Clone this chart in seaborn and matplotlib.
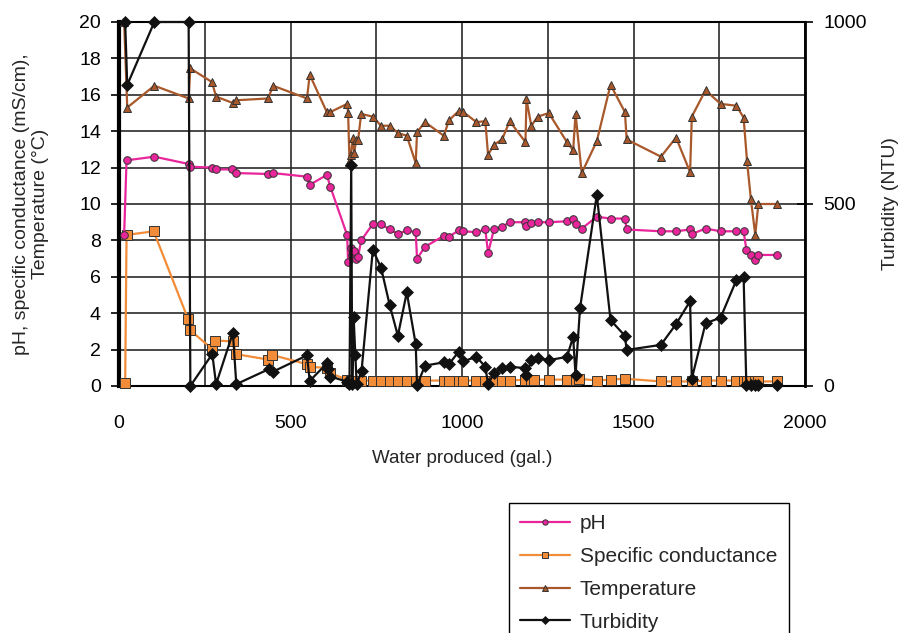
import numpy as np
import matplotlib
matplotlib.use("Agg")
import matplotlib.pyplot as plt
import seaborn as sns

# ---------------- data ----------------
ph_x = [15, 22, 103, 203, 208, 272, 283, 330, 342, 435, 449, 548, 556, 606, 616,
        665, 668, 675, 680, 685, 690, 697, 706, 740, 764, 789, 813, 839, 865, 869,
        892, 947, 962, 990, 1004, 1042, 1068, 1076, 1093, 1117, 1139, 1185, 1188,
        1202, 1221, 1253, 1306, 1324, 1331, 1349, 1393, 1433, 1475, 1480, 1580,
        1624, 1665, 1670, 1710, 1754, 1800, 1821, 1829, 1842, 1854, 1864, 1917]
ph_y = [8.3, 12.4, 12.6, 12.2, 12.05, 12.0, 11.9, 11.9, 11.7, 11.65, 11.7, 11.5,
        11.05, 11.6, 10.95, 8.3, 6.8, 7.6, 7.2, 7.4, 7.0, 7.1, 8.0, 8.9, 8.9, 8.6,
        8.35, 8.55, 8.45, 7.0, 7.65, 8.25, 8.2, 8.55, 8.5, 8.45, 8.6, 7.3, 8.6,
        8.75, 9.0, 9.0, 8.8, 8.95, 9.0, 9.0, 9.05, 9.15, 8.9, 8.65, 9.3, 9.2, 9.2,
        8.6, 8.5, 8.5, 8.6, 8.35, 8.65, 8.5, 8.5, 8.5, 7.5, 7.2, 6.95, 7.2, 7.2]

sc_x = [18, 22, 101, 201, 208, 271, 281, 332, 342, 435, 447, 548, 556, 606, 616,
        665, 675, 685, 697, 706, 740, 764, 789, 813, 839, 865, 892, 947, 962, 990,
        1004, 1042, 1068, 1093, 1117, 1139, 1185, 1202, 1210, 1253, 1306, 1331,
        1340, 1393, 1433, 1475, 1580, 1624, 1670, 1710, 1754, 1800, 1821, 1832,
        1842, 1854, 1864, 1917]
sc_y = [0.15, 8.3, 8.5, 3.7, 3.05, 2.05, 2.5, 2.45, 1.75, 1.45, 1.7, 1.2, 1.05,
        1.0, 0.7, 0.35, 0.3, 0.3, 0.3, 0.3, 0.3, 0.3, 0.3, 0.3, 0.3, 0.3, 0.3, 0.3,
        0.3, 0.3, 0.3, 0.3, 0.3, 0.3, 0.3, 0.3, 0.35, 0.35, 0.35, 0.35, 0.35, 0.35,
        0.4, 0.3, 0.35, 0.4, 0.25, 0.25, 0.25, 0.3, 0.3, 0.3, 0.3, 0.25, 0.3, 0.3,
        0.25, 0.25]

t_x = [15, 24, 103, 203, 208, 271, 283, 332, 342, 435, 449, 548, 556, 606, 616,
       665, 668, 672, 676, 681, 686, 691, 697, 706, 740, 764, 789, 813, 839, 865,
       869, 892, 947, 962, 990, 1004, 1042, 1068, 1076, 1093, 1117, 1139, 1185,
       1188, 1202, 1221, 1253, 1306, 1324, 1331, 1349, 1393, 1433, 1475, 1480,
       1580, 1624, 1665, 1670, 1710, 1754, 1800, 1821, 1831, 1842, 1855, 1864, 1917]
t_y = [20.0, 15.3, 16.5, 15.8, 17.45, 16.7, 15.9, 15.55, 15.7, 15.8, 16.5, 15.8,
       17.1, 15.05, 15.05, 15.5, 15.0, 12.3, 12.7, 13.6, 12.8, 13.5, 13.5, 14.95,
       14.8, 14.3, 14.3, 13.9, 13.75, 12.25, 13.95, 14.5, 13.75, 14.6, 15.1, 15.05,
       14.5, 14.55, 12.7, 13.25, 13.55, 14.55, 13.4, 15.75, 14.3, 14.8, 15.0, 13.4,
       12.95, 14.95, 11.7, 13.45, 16.55, 15.05, 13.55, 12.6, 13.65, 11.75, 14.8,
       16.25, 15.5, 15.4, 14.75, 12.35, 10.3, 8.3, 10.0, 10.0]

tb_x = [18, 24, 103, 203, 208, 272, 283, 332, 342, 436, 448, 548, 556, 606, 610,
        616, 665, 672, 677, 680, 684, 689, 693, 707, 740, 764, 789, 813, 839, 865,
        869, 892, 947, 962, 990, 1004, 1042, 1068, 1076, 1093, 1117, 1139, 1185,
        1188, 1202, 1221, 1253, 1306, 1324, 1331, 1344, 1393, 1433, 1475, 1480,
        1580, 1624, 1665, 1670, 1710, 1754, 1800, 1821, 1829, 1842, 1855, 1864, 1917]
tb_y = [1000, 827, 1000, 1000, 0, 88, 5, 146, 5, 46, 39, 84, 14, 62, 47, 26, 12,
        5, 607, 5, 190, 85, 5, 40, 374, 325, 223, 138, 257, 115, 2, 56, 65, 60, 94,
        68, 80, 53, 5, 35, 49, 53, 49, 30, 71, 77, 71, 80, 135, 30, 213, 525, 181,
        138, 99, 113, 170, 233, 20, 172, 188, 291, 300, 2, 2, 2, 3, 2]

x_ticks = [0, 500, 1000, 1500, 2000]
y_ticks = [0, 2, 4, 6, 8, 10, 12, 14, 16, 18, 20]
y2_ticks = [0, 500, 1000]

# ---------------- style ----------------
sns.set_style("white")
plt.rcParams['font.family'] = ['Liberation Sans', 'DejaVu Sans']

W, H = 898, 633
fig = plt.figure(figsize=(W / 100, H / 100), dpi=100)
ax = fig.add_axes([119 / W, 1 - 386 / H, 686 / W, 364 / H])
ax2 = ax.twinx()

PINK = '#E8259A'
ORANGE = '#F28C38'
BROWN = '#A8582A'
BLACK = '#111111'
EDGE = '#333333'

common = dict(estimator=None, sort=False, clip_on=False)
sns.lineplot(x=ph_x, y=ph_y, ax=ax, color=PINK, lw=1.6, marker='o', markersize=5.5,
             markerfacecolor=PINK, markeredgecolor=EDGE, markeredgewidth=0.7,
             label='pH', zorder=4, **common)
sns.lineplot(x=sc_x, y=sc_y, ax=ax, color=ORANGE, lw=1.6, marker='s', markersize=6.5,
             markerfacecolor=ORANGE, markeredgecolor=EDGE, markeredgewidth=0.7,
             label='Specific conductance', zorder=3, **common)
sns.lineplot(x=t_x, y=t_y, ax=ax, color=BROWN, lw=1.6, marker='^', markersize=6,
             markerfacecolor=BROWN, markeredgecolor=EDGE, markeredgewidth=0.7,
             label='Temperature', zorder=4, **common)
sns.lineplot(x=tb_x, y=tb_y, ax=ax2, color=BLACK, lw=1.6, marker='D', markersize=6,
             markerfacecolor=BLACK, markeredgecolor=BLACK, markeredgewidth=0.5,
             label='Turbidity', zorder=5, **common)

# axes
ax.set_xlim(0, 2000)
ax.set_ylim(0, 20)
ax2.set_ylim(0, 1000)
ax.set_xticks(x_ticks)
ax.set_xticks(np.arange(0, 2001, 250), minor=True)
ax.set_yticks(y_ticks)
ax2.set_yticks(y2_ticks)
ax.set_xticklabels([str(v) for v in x_ticks])

ax.grid(True, which='both', axis='x', color='#2a2a2a', lw=1.2)
ax.grid(True, which='major', axis='y', color='#2a2a2a', lw=1.2)
ax.set_axisbelow(True)

for sp in ax.spines.values():
    sp.set_color('black')
    sp.set_linewidth(1.5)
ax.spines['left'].set_linewidth(3)
ax.spines['right'].set_linewidth(2)
for sp in ax2.spines.values():
    sp.set_visible(False)

ax.tick_params(axis='x', which='both', length=0, pad=21, labelsize=14, colors='black')
ax.tick_params(axis='y', length=6, width=1.2, direction='out', pad=7,
               labelsize=14, colors='black', left=True)
ax2.tick_params(axis='y', length=12, width=1.2, direction='inout', pad=7,
                labelsize=14, colors='black', right=True)

ax.set_xlabel('Water produced (gal.)', fontsize=13.5, labelpad=13)
ax.set_ylabel('pH, specific conductance (mS/cm),\nTemperature (\u00b0C)',
              fontsize=14, labelpad=22, linespacing=1.1)
ax2.set_ylabel('Turbidity (NTU)', fontsize=14, labelpad=11)

# legend
h1, l1 = ax.get_legend_handles_labels()
h2, l2 = ax2.get_legend_handles_labels()
if ax.get_legend():
    ax.get_legend().remove()
if ax2.get_legend():
    ax2.get_legend().remove()
leg = fig.legend(h1 + h2, l1 + l2, loc='upper left',
                 bbox_to_anchor=(509 / W, 1 - 503 / H), bbox_transform=fig.transFigure,
                 fontsize=15, frameon=True, fancybox=False, framealpha=1,
                 edgecolor='black', handlelength=2.4, handletextpad=0.45,
                 labelspacing=0.66, borderpad=0.55, borderaxespad=0, markerscale=0.7)
leg.get_frame().set_linewidth(1.0)

fig.savefig('out.png', dpi=100)
